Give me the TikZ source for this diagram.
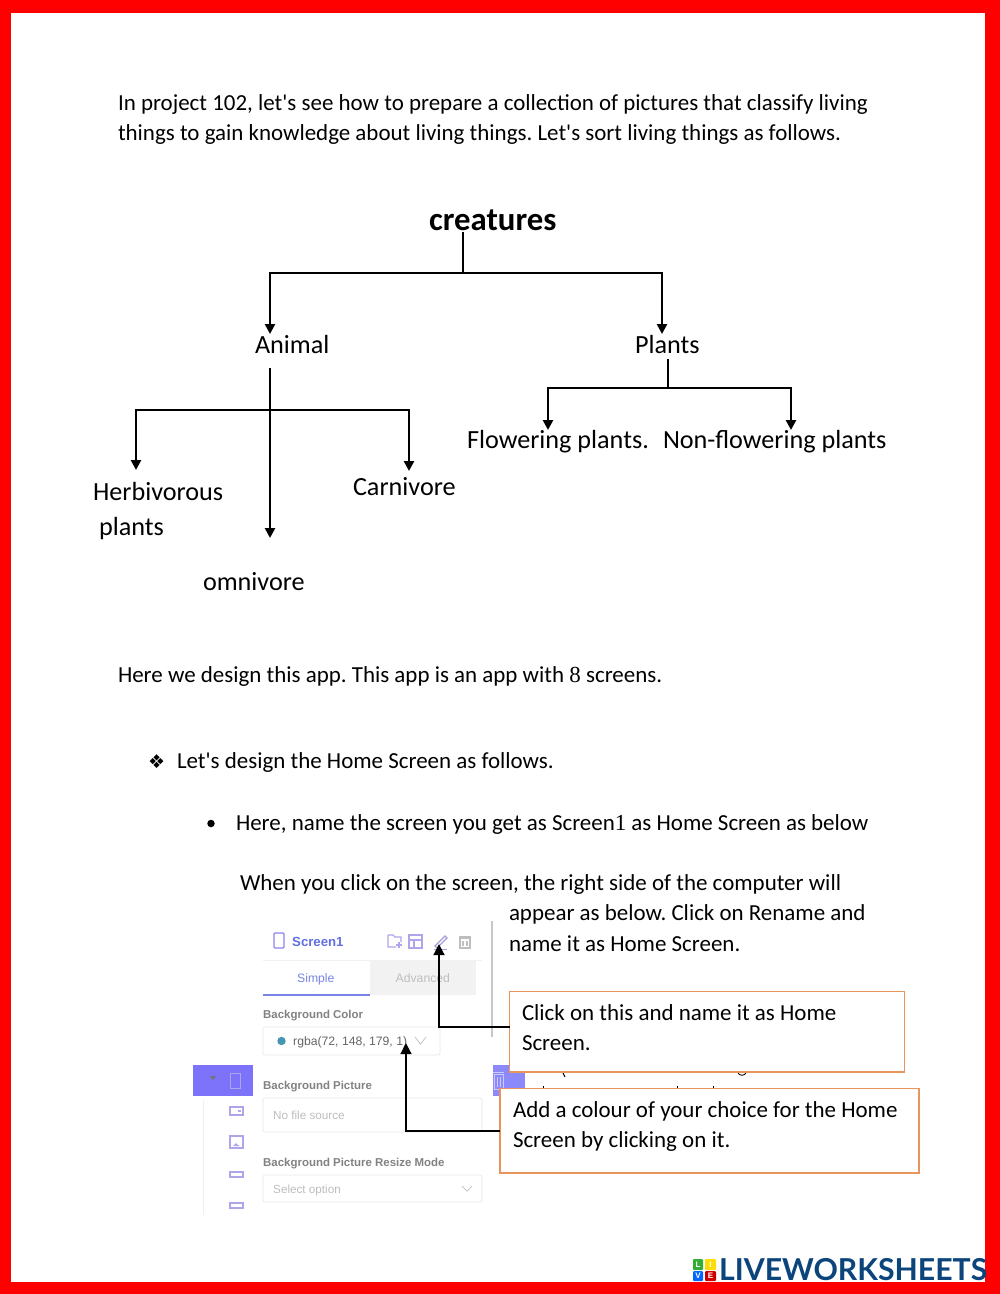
\documentclass[tikz,border=0pt]{standalone}
\usepackage{fontspec}
\newfontfamily\carl{Carlito}
\newfontfamily\uifont{Liberation Sans}
\newfontfamily\numfont{Liberation Serif}
\newfontfamily\logofont{Lato}
\newfontfamily\symfont{DejaVu Sans}
\usetikzlibrary{arrows.meta}
\definecolor{pagered}{RGB}{255,0,0}
\definecolor{uiblue}{RGB}{96,112,225}
\definecolor{uiviolet}{RGB}{125,115,250}
\definecolor{uiviolet2}{RGB}{140,138,250}
\definecolor{uilav}{RGB}{175,165,235}
\definecolor{uigray}{RGB}{130,130,130}
\definecolor{uiph}{RGB}{190,190,190}
\definecolor{uiline}{RGB}{232,232,236}
\definecolor{uidot}{RGB}{72,148,179}
\definecolor{boxor}{RGB}{232,148,90}
\definecolor{lwblue}{RGB}{12,68,124}
\tikzset{
  x=1pt,y=-1pt,
  body/.style={anchor=base west,inner sep=0pt,outer sep=0pt,font=\carl\frenchspacing\fontsize{22.95}{27}\selectfont,text=black},
  lbl/.style={anchor=base west,inner sep=0pt,outer sep=0pt,font=\carl\fontsize{26.2}{30}\selectfont,text=black},
  big/.style={anchor=base west,inner sep=0pt,font=\carl\bfseries\fontsize{32.8}{36}\selectfont},
  conn/.style={draw=black,line width=2.6pt},
  arr/.style={conn,-{Triangle[length=10pt,width=10pt]}},
  callarr/.style={draw=black,line width=2.7pt,-{Triangle[length=11pt,width=10.5pt]}},
  boxline/.style={draw=boxor,line width=1.6pt,fill=white},
  uilabel/.style={anchor=base west,inner sep=0pt,font=\uifont\bfseries\fontsize{11.45}{14}\selectfont,text=uigray},
  uitext/.style={anchor=base west,inner sep=0pt,font=\uifont\fontsize{12.2}{14}\selectfont},
  uiplace/.style={anchor=base west,inner sep=0pt,font=\uifont\fontsize{11.7}{14}\selectfont,text=uiph},
  uibox/.style={draw=uiline,line width=.7pt,rounded corners=2pt},
  icon/.style={draw=uilav,line width=1.1pt},
  tile/.style={anchor=center,inner sep=0pt,text=white,font=\uifont\bfseries\fontsize{8}{8}\selectfont},
}
\begin{document}
\begin{tikzpicture}
\useasboundingbox (0,0) rectangle (1000,1294);
\fill[white] (0,0) rectangle (1000,1294);
% intro text
\node[body] (t1) at (118,110.5) {In project 102, let's see how to prepare a collection of pictures that classify living};
\node[body] (t2) at (118,140.5) {things to gain knowledge about living things. Let's sort living things as follows.};
% tree
\node[big] (creatures) at (429,230) {creatures};
\node[lbl] (animal) at (255,353) {Animal};
\node[lbl] (plants) at (635,353) {Plants};
\node[lbl] (flower) at (467,448) {Flowering plants.};
\node[lbl] (nonflower) at (663,448) {Non-flowering plants};
\node[lbl] (herb) at (93,500) {Herbivorous};
\node[lbl] (herb2) at (99,535) {plants};
\node[lbl] (carn) at (353,495) {Carnivore};
\node[lbl] (omni) at (203,590) {omnivore};
\coordinate (cT) at (463,232);
\coordinate (cM) at (463,273);
\coordinate (aT) at (270,334);
\coordinate (pT) at (662,334);
\draw[conn] (cT) -- (cM);
\draw[arr] (cM) -| (aT);
\draw[arr] (cM) -| (pT);
\coordinate (aS) at (270,368);
\coordinate (aM) at (270,410);
\coordinate (aB) at (270,538);
\coordinate (hT) at (136,470);
\coordinate (rT) at (409,471);
\draw[arr] (aS) -- (aB);
\draw[arr] (aM) -| (hT);
\draw[arr] (aM) -| (rT);
\coordinate (pS) at (668,359);
\coordinate (pM) at (668,388);
\coordinate (fT) at (548,430);
\coordinate (nT) at (791,430);
\draw[conn] (pS) -- (pM);
\draw[arr] (pM) -| (fT);
\draw[arr] (pM) -| (nT);
% body text
\node[body] (t3) at (118,682.5) {Here we design this app. This app is an app with {\numfont 8} screens.};
\node[anchor=base west,inner sep=0pt,font=\symfont\fontsize{19}{20}\selectfont] (b1) at (148,768) {❖};
\node[body] (t4) at (177,768.5) {Let's design the Home Screen as follows.};
\node[circle,fill=black,inner sep=0pt,minimum size=7.5pt] (b2) at (211,823.5) {};
\node[body] (t5) at (236,830.5) {Here, name the screen you get as Screen{\numfont 1} as Home Screen as below};
\node[body] (t6) at (240,890.5) {When you click on the screen, the right side of the computer will};
\node[body] (t7) at (509,920.5) {appear as below. Click on Rename and};
\node[body] (t8) at (509,951.5) {name it as Home Screen.};
% UI panel
\draw[uiline!70!white,line width=1pt] (203,1100) -- (203,1215);
\fill[uiviolet] (193,1065) rectangle (253,1096);
\fill[uiviolet2] (493,1065) rectangle (525,1096);
\fill[black!55] (210,1076) -- (216,1076) -- (213,1080) -- cycle;
\draw[draw=uilav,line width=.8pt] (230,1073) rectangle (240,1088);
\draw[draw=white!55!uiviolet2,line width=1pt] (494,1074) rectangle (503,1089);
\draw[draw=white!55!uiviolet2,line width=1pt] (497,1077) -- (497,1087) (500,1077) -- (500,1087) (493,1072.5) -- (504,1072.5);
\draw[black!22,line width=1.6pt] (492,921) -- (492,1037);
% header
\draw[icon,rounded corners=1pt,draw=uilav!80!blue] (274,933) rectangle (284,948);
\node[anchor=base west,inner sep=0pt,font=\uifont\bfseries\fontsize{13.2}{15}\selectfont,text=uiblue] (s1) at (292,946) {Screen1};
\draw[icon] (388,935) -- (393,935) -- (395,937) -- (401,937) -- (401,942) (396,947) -- (388,947) -- (388,935);
\draw[icon] (396,945) -- (402,945) (399,942) -- (399,948);
\draw[icon] (409,935) rectangle (422,948);
\draw[icon] (409,940) -- (422,940) (414,940) -- (414,948);
\draw[icon,draw=uilav!80!gray] (435,946) -- (445,936) -- (447,938) -- (437,948) -- cycle;
\draw[icon,draw=uilav!80!gray] (434,949.5) -- (447,949.5);
\draw[icon,draw=uiph] (460,938) rectangle (470,948);
\draw[icon,draw=uiph] (459,936.5) -- (471,936.5) (463,941) -- (463,946) (467,941) -- (467,946);
\draw[uiline!60!white,line width=.7pt] (263,960) -- (482,960);
% tabs
\fill[black!5] (370,960) rectangle (476,995);
\node[uitext,text=uiblue!85!white] (simple) at (297,982) {Simple};
\node[uitext,text=uiph] (adv) at (395.5,982) {Advanced};
\draw[uiblue!85!white,line width=1.3pt] (263,995) -- (370,995);
% fields
\node[uilabel] (bc) at (263,1018) {Background Color};
\draw[uibox] (263,1027) rectangle (440,1055);
\fill[uidot] (281.5,1041) circle (4.2pt);
\node[uitext,text=black!60] (rg) at (293,1045) {rgba(72, 148, 179, 1)};
\draw[draw=uiph,line width=.7pt] (415,1037) -- (420.5,1044) -- (426,1037);
\node[uilabel] (bp) at (263,1089) {Background Picture};
\draw[uibox] (263,1098) rectangle (482,1132);
\node[uiplace] (nf) at (273,1119) {No file source};
\draw[icon] (230,1107) rectangle (243,1115);
\fill[uilav] (238,1110) rectangle (241,1112);
\draw[icon] (230,1136) rectangle (243,1148);
\fill[uilav] (233,1146) -- (236,1143) -- (238,1145) -- (240,1146) -- cycle;
\node[uilabel] (bm) at (263,1166) {Background Picture Resize Mode};
\draw[uibox] (263,1175) rectangle (482,1202);
\node[uiplace] (so) at (273,1193) {Select option};
\draw[draw=uiph,line width=.7pt] (462,1186) -- (467,1191) -- (472,1186);
\draw[icon] (230,1172) rectangle (243,1177);
\draw[icon] (230,1203) rectangle (243,1208);
% hidden-text fragments between the boxes
\draw[black,line width=.9pt] (563,1073) -- (565,1077) (738,1073) .. controls (740,1076) and (744,1076) .. (746,1073);
\draw[black,line width=.8pt] (543,1086) -- (543,1088) (677,1086) -- (677,1088) (713,1086) -- (713,1088);
% callouts
\draw[boxline] (509.5,991.5) rectangle (904.5,1072);
\draw[boxline] (500,1088.5) rectangle (919,1173);
\node[body] (c1a) at (522,1020.5) {Click on this and name it as Home};
\node[body] (c1b) at (522,1050.5) {Screen.};
\node[body] (c2a) at (513,1117.5) {Add a colour of your choice for the Home};
\node[body] (c2b) at (513,1147.5) {Screen by clicking on it.};
\coordinate (box1L) at (509.5,1027);
\coordinate (box2L) at (500,1131);
\coordinate (penT) at (439,944);
\coordinate (colT) at (406,1043);
\draw[callarr] (box1L) -| (penT);
\draw[callarr] (box2L) -| (colT);
% page border
\fill[pagered] (0,0) rectangle (1000,12.5);
\fill[pagered] (0,0) rectangle (11,1294);
\fill[pagered] (985,0) rectangle (1000,1294);
\fill[pagered] (0,1282) rectangle (1000,1294);
% logo
\fill[green!60!black!80!white,rounded corners=1pt] (693,1259) rectangle (703,1270);
\fill[yellow!80!orange,rounded corners=1pt] (705,1259) rectangle (716,1270);
\fill[blue!60!cyan,rounded corners=1pt] (693,1271) rectangle (703,1281);
\fill[red!80!black,rounded corners=1pt] (705,1271) rectangle (716,1281);
\node[tile] (lL) at (698,1264.5) {L};
\node[tile] (lI) at (710.5,1264.5) {I};
\node[tile] (lV) at (698,1276) {V};
\node[tile] (lE) at (710.5,1276) {E};
\node[anchor=base west,inner sep=0pt,text=lwblue,font=\logofont\bfseries\fontsize{30.2}{34}\selectfont] (lw) at (719,1280.5) {LIVEWORKSHEETS};
\end{tikzpicture}
\end{document}
